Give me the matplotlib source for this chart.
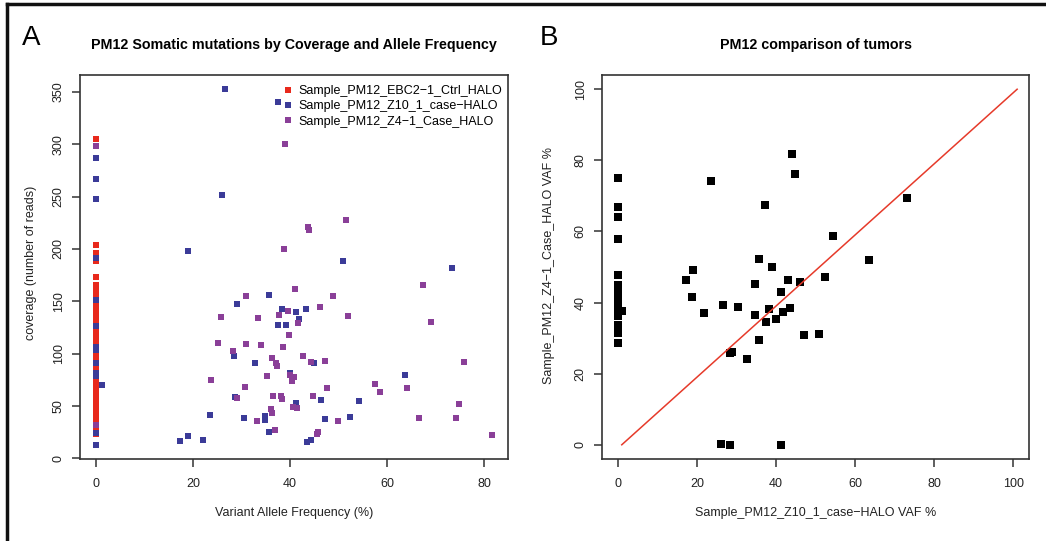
import matplotlib
matplotlib.use('Agg')
import matplotlib.pyplot as plt
from matplotlib.lines import Line2D

plt.rcParams['font.family'] = ['Liberation Sans', 'DejaVu Sans']

W, H = 1046, 541

# ---- panel A: coverage vs VAF ----
ctrl_cov = [305, 204, 196.5, 188, 173.6, 166, 162, 160, 155, 153, 150, 147, 144,
            141, 139, 135, 132, 130, 127, 123, 121, 118, 116, 113, 109, 107, 104,
            101, 99, 95, 93, 90, 87, 84, 81, 78, 76, 72, 70, 67, 64, 61, 59, 56,
            53, 50, 47, 45, 42, 39, 36, 33, 31, 28, 25, 23]
ctrl_vaf = [0] * len(ctrl_cov)

z10_vaf = [0, 0, 0, 0, 0, 0, 0, 0, 0, 0, 0, 0, 0, 1.2,
           26.7, 26.0, 37.5, 18.9, 50.9, 73.3, 35.7, 29.1, 43.2, 41.2, 38.3,
           41.9, 37.6, 39.2, 28.4, 32.8, 44.9, 40.0, 63.6, 28.6, 46.3, 54.3,
           41.3, 23.6, 30.6, 34.8, 34.9, 47.2, 52.3, 35.7, 43.5, 44.3, 17.4,
           18.9, 22.0]
z10_cov = [286.7, 266.3, 247.3, 191.7, 151, 126, 106, 103.8, 91, 81.6, 78.4,
           24.5, 12.7, 69.8,
           352.4, 251.1, 340.3, 198.1, 188.6, 182.2, 156.2, 147, 142.9, 140,
           142.9, 133.3, 127, 127, 97.8, 91.1, 91, 81.9, 80, 59, 56.2, 54.9,
           53, 41.9, 39, 40.9, 36.8, 37.8, 40, 24.8, 15.9, 18.1, 16.8, 21, 18.1]

z4_vaf = [0, 0, 39.0, 51.6, 43.8, 43.9, 38.8, 67.3, 41.1, 48.8, 30.9, 25.7,
          33.3, 52.0, 46.1, 39.5, 37.7, 41.6, 39.7, 69.1, 25.2, 31.0, 34.0,
          38.6, 28.2, 36.3, 42.6, 47.1, 75.9, 37.2, 37.3, 44.4, 23.8, 35.3,
          39.9, 40.8, 40.4, 57.6, 58.5, 64.0, 30.7, 47.6, 29.1, 36.5, 38.2,
          38.4, 44.8, 74.9, 40.6, 41.5, 36.1, 36.2, 33.1, 49.9, 66.5, 74.2,
          36.8, 45.8, 45.6, 81.7]
z4_cov = [298, 32.4, 299.7, 227.6, 221, 218, 200, 166, 161.9, 155, 155, 135.2,
          134, 136.2, 145, 141, 137, 129.2, 118, 130.2, 110, 108.9, 108, 106,
          102.5, 95.9, 98.1, 93, 91.7, 91.1, 88, 92, 75, 79, 79.7, 78.1, 73.6,
          71.1, 63.2, 67, 67.9, 67.3, 57.4, 60, 60, 57.1, 60, 52.1, 49.2, 47.9,
          47.3, 43.5, 35.9, 35.9, 39, 39, 27, 25.4, 23.5, 22.2]

labels_a = ['Sample_PM12_EBC2\u22121_Ctrl_HALO',
            'Sample_PM12_Z10_1_case\u2212HALO',
            'Sample_PM12_Z4\u22121_Case_HALO']
colors_a = ['#e8291c', '#3b3b98', '#8a3f98']

# ---- panel B: tumor vs tumor VAF ----
cmp_z10 = [0, 0, 0, 0, 0, 0, 0, 0, 0, 0, 0, 0, 0, 0, 0, 0, 0, 1.0,
           23.5, 44.1, 44.8, 37.3, 54.3, 63.5, 73.2, 35.6, 39.1, 18.9, 17.3,
           43.1, 46.2, 52.3, 34.8, 41.2, 18.7, 26.7, 30.5, 21.9, 34.7, 38.2,
           43.5, 41.8, 40.0, 37.5, 47.1, 50.8, 35.8, 28.5, 29.0, 32.7, 26.0,
           28.3, 41.2]
cmp_z4 = [75.0, 66.9, 64.2, 57.9, 47.8, 44.8, 43.9, 42.8, 41.8, 40.9, 40.0,
          39.0, 37.6, 36.2, 33.6, 31.4, 28.5, 37.6,
          74.3, 81.8, 76.1, 67.5, 58.8, 51.9, 69.3, 52.3, 50.0, 49.1, 46.3,
          46.3, 45.9, 47.3, 45.1, 42.9, 41.7, 39.2, 38.8, 37.1, 36.5, 38.1,
          38.4, 37.4, 35.5, 34.4, 31.0, 31.1, 29.5, 25.7, 26.1, 24.1, 0.2,
          0, 0]
diag = list(range(0, 101))

ink = '#333333'


def px_rect(l, t, r, b):
    return [l / W, 1 - b / H, (r - l) / W, (b - t) / H]


def r_style(ax):
    for s in ax.spines.values():
        s.set_color(ink)
        s.set_linewidth(1.2)
    ax.tick_params(direction='out', length=6, width=1.1, color=ink,
                   labelsize=9, labelcolor='#222222')
    ax.tick_params(axis='x', pad=8)
    ax.tick_params(axis='y', pad=5)
    for t in ax.get_yticklabels():
        t.set_rotation(90)
        t.set_va('center')


fig = plt.figure(figsize=(W / 100, H / 100), dpi=100)

axa = fig.add_axes(px_rect(80, 75, 508, 459))
axa.plot(ctrl_vaf, ctrl_cov, 's', ms=5, mew=0, color=colors_a[0], label=labels_a[0])
axa.plot(z10_vaf, z10_cov, 's', ms=5, mew=0, color=colors_a[1], label=labels_a[1])
axa.plot(z4_vaf, z4_cov, 's', ms=5, mew=0, color=colors_a[2], label=labels_a[2])
axa.set_xlim(-3.27, 84.9)
axa.set_ylim(-0.5, 366)
axa.set_xticks([0, 20, 40, 60, 80])
axa.set_yticks([0, 50, 100, 150, 200, 250, 300, 350])
r_style(axa)
axa.legend(loc='upper right', bbox_to_anchor=(0.9912, 0.9798), frameon=False,
           fontsize=9, handlelength=0.6, handletextpad=0.5, labelspacing=0.25,
           borderaxespad=0, markerscale=0.9, borderpad=0.2)

axb = fig.add_axes(px_rect(602, 75, 1029, 459))
axb.plot(cmp_z10, cmp_z4, 's', ms=6, mew=0, color='black')
axb.plot([i + 1 for i in diag], diag, '-', color='#e63a2a', lw=1.1)
axb.set_xlim(-4, 104)
axb.set_ylim(-4, 104)
axb.set_xticks([0, 20, 40, 60, 80, 100])
axb.set_yticks([0, 20, 40, 60, 80, 100])
r_style(axb)

# titles and axis labels
fig.text(294 / W, 1 - 49 / H, 'PM12 Somatic mutations by Coverage and Allele Frequency',
         ha='center', va='baseline', fontsize=10.3, fontweight='bold')
fig.text(815.5 / W, 1 - 49 / H, 'PM12 comparison of tumors',
         ha='center', va='baseline', fontsize=10.3, fontweight='bold')
fig.text(294 / W, 1 - 516 / H, 'Variant Allele Frequency (%)',
         ha='center', va='baseline', fontsize=9, color='#222222')
fig.text(815.5 / W, 1 - 516 / H, 'Sample_PM12_Z10_1_case\u2212HALO VAF %',
         ha='center', va='baseline', fontsize=9, color='#222222')
fig.text(31 / W, 1 - 263 / H, 'coverage (number of reads)', rotation=90,
         ha='center', va='center', fontsize=9, color='#222222')
fig.text(549 / W, 1 - 265 / H, 'Sample_PM12_Z4\u22121_Case_HALO VAF %', rotation=90,
         ha='center', va='center', fontsize=9, color='#222222')

# panel letters
fig.text(31 / W, 1 - 38 / H, 'A', ha='center', va='center', fontsize=20)
fig.text(549 / W, 1 - 38 / H, 'B', ha='center', va='center', fontsize=20)

# outer frame (top and left edges visible)
fig.add_artist(Line2D([7 / W, 1], [1 - 4 / H, 1 - 4 / H], color='#111111', lw=2.5,
                      transform=fig.transFigure))
fig.add_artist(Line2D([7 / W, 7 / W], [0, 1 - 4 / H], color='#111111', lw=2.5,
                      transform=fig.transFigure))

fig.savefig('out.png', dpi=100)
